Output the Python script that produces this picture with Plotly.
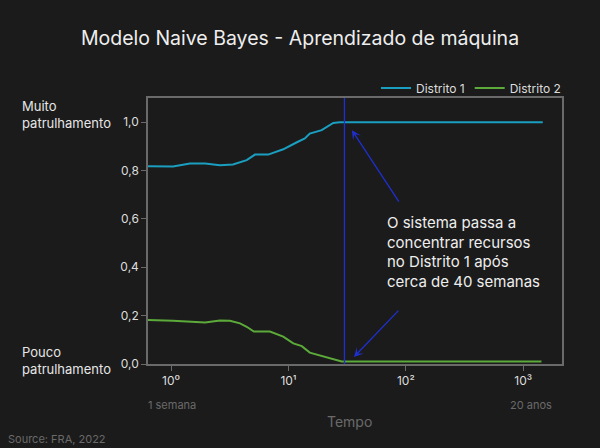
import numpy as np
import plotly.graph_objects as go

# ---- data ----
weeks_d1 = [0.637, 1.04, 1.45, 1.95, 2.61, 3.37, 4.41, 5.19, 6.73, 9.03, 11.7, 13.8, 15.2, 19.2, 24.1, 27.4, 1466]
share_d1 = [0.818, 0.817, 0.829, 0.829, 0.822, 0.825, 0.843, 0.866, 0.866, 0.888, 0.916, 0.933, 0.953, 0.967, 0.997, 1.0, 1.0]

weeks_d2 = [0.637, 1.04, 1.95, 2.61, 3.18, 3.87, 4.41, 5.08, 6.96, 9.03, 11.0, 13.0, 15.2, 19.2, 24.1, 28.4, 1430]
share_d2 = [0.182, 0.179, 0.172, 0.180, 0.179, 0.168, 0.154, 0.134, 0.134, 0.113, 0.085, 0.074, 0.047, 0.033, 0.017, 0.010, 0.010]

switch_week = 30
x_tick_vals = [1, 10, 100, 1000]
x_tick_text = ["10⁰", "10¹", "10²", "10³"]
y_tick_vals = [0.0, 0.2, 0.4, 0.6, 0.8, 1.0]

BG = "#1b1b1b"
FONT = "Inter"
W, H = 600, 448
L, R, T, B = 148, 38, 98, 84
PW, PH = W - L - R, H - T - B


def px(x):
    return (x - L) / PW


def py(y):
    return (H - B - y) / PH


fig = go.Figure()
fig.add_trace(go.Scatter(x=weeks_d1, y=share_d1, mode="lines", name="Distrito 1",
                         line=dict(color="#1a9fc0", width=2)))
fig.add_trace(go.Scatter(x=weeks_d2, y=share_d2, mode="lines", name="Distrito 2",
                         line=dict(color="#5caa3a", width=2)))
fig.add_trace(go.Scatter(x=[switch_week, switch_week], y=[0, 1.1], mode="lines",
                         showlegend=False, line=dict(color="#1f2fd0", width=1.3)))

ann = []


def text(x, y, s, size, color, xanchor="left"):
    ann.append(dict(xref="paper", yref="paper", x=px(x), y=py(y), text=s, showarrow=False,
                    xanchor=xanchor, yanchor="middle", align="left",
                    font=dict(family=FONT, size=size, color=color)))


text(20, 114, "Muito<br>patrulhamento", 13, "#e6e6e6")
text(20, 360, "Pouco<br>patrulhamento", 13, "#e6e6e6")

text(385, 252, "O sistema passa a<br>concentrar recursos<br>no Distrito 1 após<br>cerca de 40 semanas",
     15, "#eeeeee")

text(172, 405, "1 semana", 11, "#6a6a6a", "center")
text(531, 405, "20 anos", 11, "#6a6a6a", "center")
text(349, 421, "Tempo", 14, "#6a6a6a", "center")
text(6, 439, "Source: FRA, 2022", 11, "#6a6a6a")

# arrows
for (tx, ty), (sx, sy) in [((34.7, 0.967), (88.9, 0.665)), ((36.1, 0.029), (88.9, 0.227))]:
    ann.append(dict(x=np.log10(tx), y=ty, xref="x", yref="y", ax=np.log10(sx), ay=sy,
                    axref="x", ayref="y", showarrow=True, arrowhead=3, arrowsize=1.2,
                    arrowwidth=1.3, arrowcolor="#1f2fd0", text=""))

fig.update_layout(
    width=W, height=H,
    margin=dict(l=L, r=R, t=T, b=B, autoexpand=False),
    paper_bgcolor=BG, plot_bgcolor=BG,
    separators=", ",
    font=dict(family=FONT, size=12, color="#dddddd"),
    title=dict(text="Modelo Naive Bayes - Aprendizado de máquina", x=0.5, xref="container",
               xanchor="center", y=1 - 38 / H, yanchor="middle",
               font=dict(family=FONT, size=19.5, color="#eeeeee")),
    showlegend=True,
    legend=dict(orientation="h", x=px(566), xanchor="right", y=py(88), yanchor="middle",
                bgcolor="rgba(0,0,0,0)", font=dict(family=FONT, size=12, color="#dddddd"),
                itemwidth=30),
    annotations=ann,
    hovermode=False,
)
fig.update_xaxes(type="log", range=[-0.196, 3.33], tickvals=x_tick_vals, ticktext=x_tick_text,
                 showgrid=False, zeroline=False, showline=True, mirror=True, linecolor="#6a6a6a",
                 linewidth=1.5, ticks="outside", ticklen=5, tickcolor="#6a6a6a",
                 tickfont=dict(family=FONT, size=12, color="#dddddd"))
fig.update_yaxes(range=[0, 1.1], tickvals=y_tick_vals, tickformat=".1f",
                 showgrid=False, zeroline=False, showline=True, mirror=True, linecolor="#6a6a6a",
                 linewidth=1.5, ticks="outside", ticklen=5, tickcolor="#6a6a6a",
                 tickfont=dict(family=FONT, size=12, color="#dddddd"))

fig.write_html("out.html")
